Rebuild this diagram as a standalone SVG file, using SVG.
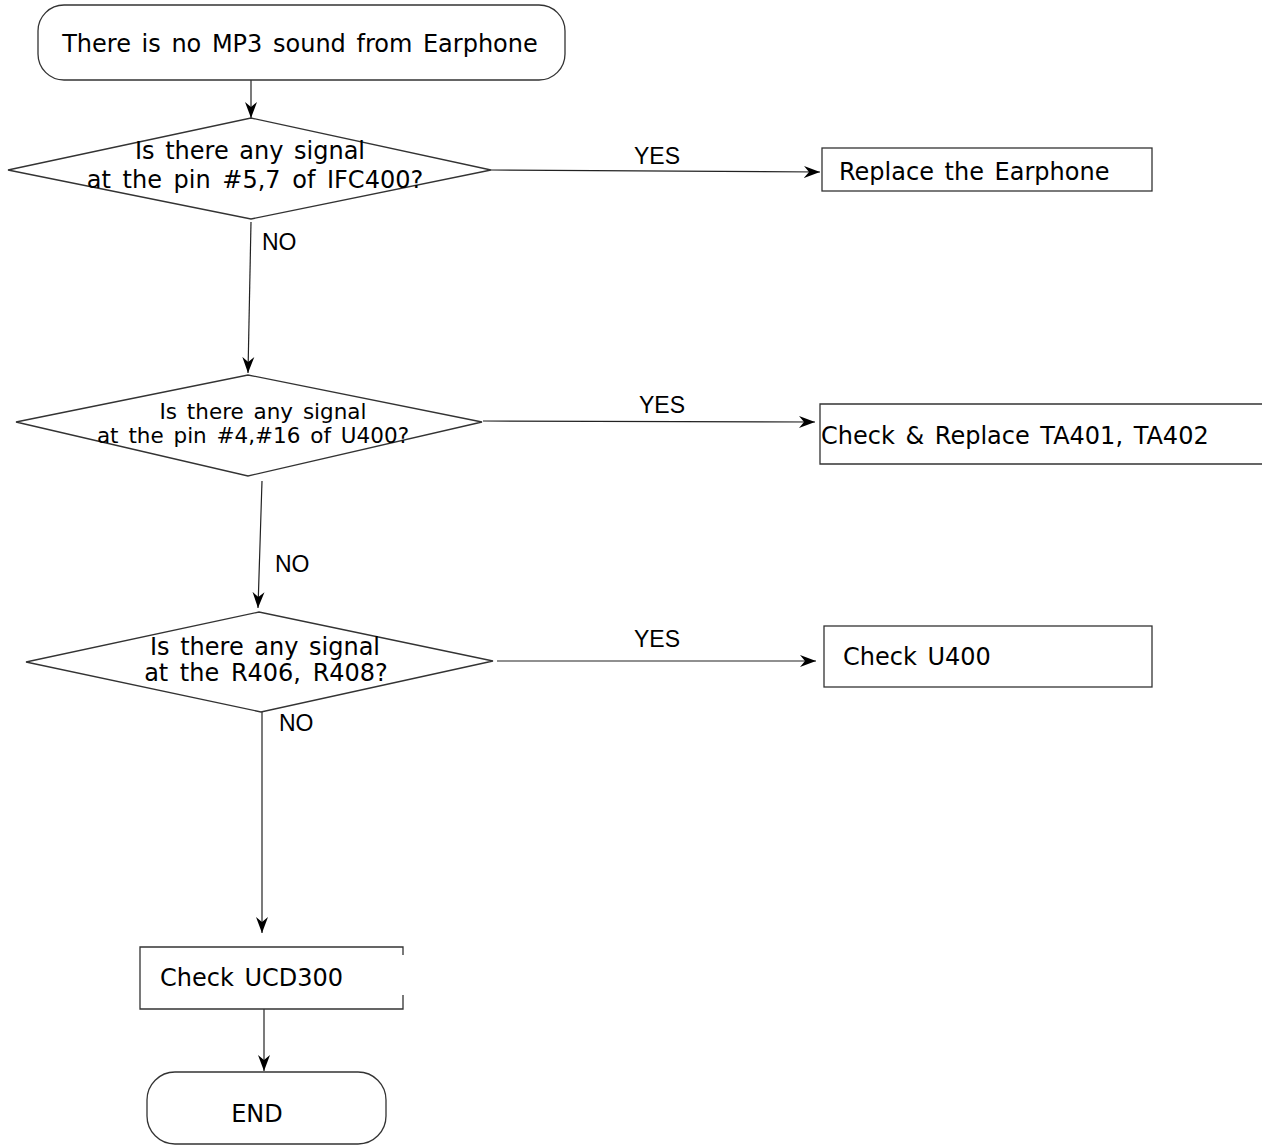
<svg xmlns="http://www.w3.org/2000/svg" width="1262" height="1145" viewBox="0 0 1262 1145">
<style>
.shape{fill:#fff;stroke:#333;stroke-width:1.3}
.line{fill:none;stroke:#222;stroke-width:1.2}
text{font-family:"DejaVu Sans","Liberation Sans",sans-serif;fill:#000}
.t{font-size:24px;word-spacing:3px}
.d{font-size:24px;word-spacing:3px}
.l{font-size:23px;font-family:"Liberation Sans",sans-serif}
</style>
<defs>
<marker id="arr" markerUnits="userSpaceOnUse" markerWidth="18" markerHeight="14" refX="16" refY="7" orient="auto">
<path d="M0,1 L16,7 L0,13 L5,7 z" fill="#000"/>
</marker>
</defs>
<rect width="1262" height="1145" fill="#fff"/>
<g id="connectors">
<line class="line" x1="251" y1="80" x2="251" y2="118" marker-end="url(#arr)"/>
<line class="line" x1="491" y1="170" x2="820" y2="172" marker-end="url(#arr)"/>
<text class="l" x="634" y="164">YES</text>
<line class="line" x1="251" y1="222" x2="248" y2="373" marker-end="url(#arr)"/>
<text class="l" x="262" y="250">NO</text>
<line class="line" x1="483" y1="421" x2="815" y2="422" marker-end="url(#arr)"/>
<text class="l" x="639" y="413">YES</text>
<line class="line" x1="262" y1="481" x2="258" y2="608" marker-end="url(#arr)"/>
<text class="l" x="275" y="572">NO</text>
<line class="line" x1="497" y1="661" x2="816" y2="661" marker-end="url(#arr)"/>
<text class="l" x="634" y="647">YES</text>
<line class="line" x1="262" y1="700" x2="262" y2="933" marker-end="url(#arr)"/>
<text class="l" x="279" y="731">NO</text>
<line class="line" x1="264" y1="1009" x2="264" y2="1071" marker-end="url(#arr)"/>
</g>
<g id="start">
<rect class="shape" x="38" y="5" width="527" height="75" rx="26" ry="26"/>
<text class="t" x="300" y="52" text-anchor="middle">There is no MP3 sound from Earphone</text>
</g>
<g id="decision1">
<polygon class="shape" points="8,170 251,118 491,170 251,219"/>
<text class="d" x="250" y="159" text-anchor="middle">Is there any signal</text>
<text class="d" x="255" y="188" text-anchor="middle" style="word-spacing:4px">at the pin #5,7 of IFC400?</text>
</g>
<g id="replace-earphone">
<rect class="shape" x="822" y="148" width="330" height="43"/>
<text class="t" x="839" y="180">Replace the Earphone</text>
</g>
<g id="decision2">
<polygon class="shape" points="16,422 248,375 482,422 248,476"/>
<text class="d" x="263" y="419" text-anchor="middle" style="font-size:21.5px">Is there any signal</text>
<text class="d" x="253" y="443" text-anchor="middle" style="font-size:21.5px">at the pin #4,#16 of U400?</text>
</g>
<g id="check-ta">
<path class="shape" d="M1262,404 H820 V464 H1262"/>
<text class="t" x="821" y="444">Check &amp; Replace TA401, TA402</text>
</g>
<g id="decision3">
<polygon class="shape" points="26,662 259,612 493,661 261,712"/>
<text class="d" x="265" y="655" text-anchor="middle">Is there any signal</text>
<text class="d" x="266" y="681" text-anchor="middle" style="word-spacing:4px">at the R406, R408?</text>
</g>
<g id="check-u400">
<rect class="shape" x="824" y="626" width="328" height="61"/>
<text class="t" x="843" y="665">Check U400</text>
</g>
<g id="check-ucd300">
<path class="shape" d="M403,955 V947 H140 V1009 H403 V995"/>
<text class="t" x="160" y="986">Check UCD300</text>
</g>
<g id="end">
<rect class="shape" x="147" y="1072" width="239" height="72" rx="28" ry="28"/>
<text class="t" x="257" y="1122" text-anchor="middle">END</text>
</g>
</svg>
